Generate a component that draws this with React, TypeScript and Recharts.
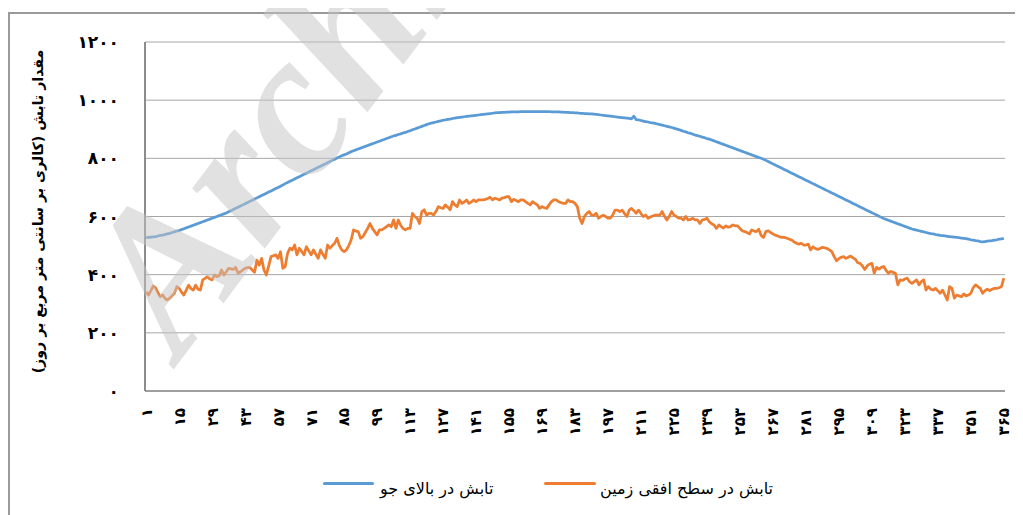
import React from 'react';
import { LineChart, Line, XAxis, YAxis, CartesianGrid, Label } from 'recharts';

// تابش در بالای جو (top of atmosphere), day 1..365
const topOfAtmosphere: number[] = [
  527, 528, 529, 530, 531, 533, 535, 536, 538, 540,
  542, 545, 547, 550, 552, 555, 558, 561, 564, 567,
  570, 573, 576, 579, 582, 585, 588, 591, 594, 597,
  600, 603, 606, 609, 612, 616, 620, 624, 628, 632,
  636, 640, 644, 648, 652, 656, 660, 664, 668, 672,
  676, 680, 684, 688, 692, 696, 700, 704, 708, 713,
  717, 721, 725, 729, 733, 737, 741, 745, 749, 753,
  757, 761, 765, 769, 773, 777, 781, 785, 789, 793,
  797, 801, 805, 809, 812, 815, 819, 823, 826, 829,
  832, 835, 838, 841, 844, 847, 850, 853, 856, 859,
  862, 865, 868, 871, 874, 877, 879, 882, 884, 887,
  889, 892, 895, 898, 901, 904, 907, 910, 913, 916,
  919, 921, 923, 925, 927, 929, 931, 932, 934, 935,
  937, 938, 940, 941, 942, 943, 944, 945, 946, 947,
  948, 949, 950, 951, 952, 953, 954, 955, 956, 957,
  957, 958, 958, 959, 959, 960, 960, 960, 960, 961,
  961, 961, 961, 961, 961, 961, 961, 961, 961, 961,
  961, 961, 960, 960, 960, 960, 959, 959, 958, 958,
  957, 957, 956, 956, 955, 955, 954, 954, 953, 953,
  952, 951, 950, 949, 948, 947, 946, 945, 944, 943,
  942, 941, 940, 939, 938, 937, 936, 945, 933, 932,
  930, 928, 926, 925, 923, 922, 920, 918, 916, 914,
  912, 910, 908, 906, 904, 901, 899, 896, 893, 891,
  888, 886, 883, 880, 878, 876, 873, 871, 868, 866,
  863, 860, 857, 854, 851, 848, 845, 842, 839, 836,
  833, 830, 827, 824, 821, 818, 815, 812, 809, 806,
  803, 800, 797, 793, 789, 785, 781, 777, 773, 769,
  765, 761, 757, 753, 749, 745, 741, 737, 733, 729,
  725, 721, 717, 713, 709, 705, 701, 697, 693, 689,
  685, 681, 677, 673, 669, 665, 661, 657, 653, 649,
  645, 641, 637, 633, 629, 625, 621, 617, 613, 609,
  605, 601, 597, 593, 590, 587, 584, 581, 578, 575,
  572, 569, 566, 563, 560, 557, 555, 553, 551, 549,
  547, 545, 543, 541, 540, 538, 537, 535, 534, 533,
  532, 531, 530, 529, 528, 527, 526, 525, 524, 522,
  520, 519, 517, 516, 514, 513, 514, 515, 516, 517,
  519, 520, 522, 523, 525,
];

// تابش در سطح افقی زمین (horizontal surface), day 1..365
const surface: number[] = [
  341, 330, 345, 361, 355, 338, 324, 330, 318, 313,
  319, 328, 336, 359, 353, 340, 330, 347, 364, 352,
  347, 364, 350, 347, 382, 387, 393, 385, 382, 399,
  393, 396, 416, 399, 410, 422, 420, 418, 425, 405,
  410, 416, 422, 424, 425, 416, 408, 450, 433, 456,
  416, 399, 430, 462, 465, 468, 456, 479, 422, 428,
  473, 491, 485, 502, 468, 491, 480, 468, 496, 482,
  468, 485, 470, 456, 485, 470, 456, 502, 491, 500,
  508, 525, 500, 485, 479, 485, 500, 519, 554, 550,
  548, 525, 531, 545, 559, 576, 559, 548, 537, 554,
  554, 559, 565, 571, 565, 588, 559, 588, 570, 559,
  554, 559, 559, 611, 600, 594, 576, 617, 623, 605,
  611, 611, 605, 617, 634, 630, 628, 640, 632, 623,
  651, 640, 634, 657, 645, 650, 657, 645, 650, 657,
  651, 657, 657, 657, 659, 662, 666, 657, 663, 660,
  657, 663, 665, 668, 668, 651, 659, 655, 651, 657,
  657, 651, 645, 640, 651, 645, 640, 628, 634, 630,
  628, 640, 651, 657, 657, 651, 648, 645, 645, 657,
  651, 651, 645, 634, 594, 576, 600, 611, 617, 605,
  605, 611, 594, 600, 605, 600, 594, 594, 605, 622,
  622, 617, 622, 610, 600, 622, 628, 620, 611, 622,
  610, 600, 605, 594, 598, 602, 605, 605, 605, 617,
  600, 588, 600, 617, 605, 600, 594, 594, 588, 600,
  588, 590, 594, 588, 588, 576, 588, 590, 594, 582,
  575, 571, 559, 571, 565, 560, 568, 563, 565, 571,
  568, 568, 559, 551, 548, 545, 540, 554, 550, 548,
  556, 535, 528, 548, 551, 545, 540, 536, 533, 530,
  528, 528, 525, 522, 519, 513, 508, 505, 508, 502,
  502, 505, 485, 496, 490, 487, 490, 494, 492, 490,
  485, 479, 462, 448, 455, 460, 462, 456, 460, 464,
  458, 453, 441, 439, 430, 418, 430, 436, 439, 405,
  425, 419, 425, 428, 415, 405, 411, 408, 405, 365,
  382, 380, 385, 388, 376, 370, 376, 382, 365, 376,
  382, 347, 359, 350, 347, 353, 345, 336, 347, 330,
  313, 359, 353, 319, 330, 327, 324, 334, 327, 330,
  336, 355, 365, 359, 353, 336, 345, 350, 345, 350,
  353, 353, 355, 359, 388,
];

const xTickDays = [1, 15, 29, 43, 57, 71, 85, 99, 113, 127, 141, 155, 169, 183, 197, 211, 225, 239, 253, 267, 281, 295, 309, 323, 337, 351, 365];
const xTickLabels = ['۱', '۱۵', '۲۹', '۴۳', '۵۷', '۷۱', '۸۵', '۹۹', '۱۱۳', '۱۲۷', '۱۴۱', '۱۵۵', '۱۶۹', '۱۸۳', '۱۹۷', '۲۱۱', '۲۲۵', '۲۳۹', '۲۵۳', '۲۶۷', '۲۸۱', '۲۹۵', '۳۰۹', '۳۲۳', '۳۳۷', '۳۵۱', '۳۶۵'];
const yTicks = [0, 200, 400, 600, 800, 1000, 1200];
const yTickLabels = ['۰', '۲۰۰', '۴۰۰', '۶۰۰', '۸۰۰', '۱۰۰۰', '۱۲۰۰'];

const seriesNames = ['تابش در بالای جو', 'تابش در سطح افقی زمین'];
const yTitle = 'مقدار تابش (کالری بر سانتی متر مربع بر روز)';
const watermark = 'Archive of SID';

const data = topOfAtmosphere.map((v, i) => ({ day: i + 1, top: v, surface: surface[i] }));

const FONT = '"DejaVu Sans", sans-serif';
const BLUE = '#5b9bd5';
const ORANGE = '#ed7d31';

const XTick = (props: any) => {
  const { x, y, payload } = props;
  const idx = xTickDays.indexOf(payload.value);
  const label = idx >= 0 ? xTickLabels[idx] : String(payload.value);
  return (
    <text
      x={x}
      y={y}
      dy="0.36em"
      transform={`rotate(-90, ${x}, ${y})`}
      textAnchor="end"
      fontFamily={FONT}
      fontWeight="bold"
      fontSize={15}
      fill="#000"
    >
      {label}
    </text>
  );
};

const YTick = (props: any) => {
  const { x, y, payload } = props;
  const idx = yTicks.indexOf(payload.value);
  const label = idx >= 0 ? yTickLabels[idx] : String(payload.value);
  return (
    <text x={x} y={y} dy="0.36em" textAnchor="end" fontFamily={FONT} fontWeight="bold" fontSize={17} fill="#000">
      {label}
    </text>
  );
};

const YTitle = (props: any) => {
  const vb = props.viewBox || { x: 0, y: 34, width: 137, height: 349 };
  const cx = vb.x + 30;
  const cy = vb.y + vb.height / 2 - 5;
  return (
    <text
      x={cx}
      y={cy}
      dy="0.36em"
      transform={`rotate(-90, ${cx}, ${cy})`}
      textAnchor="middle"
      fontFamily={FONT}
      fontWeight="bold"
      fontSize={14.2}
      fill="#000"
    >
      {yTitle}
    </text>
  );
};

export default function App() {
  return (
    <div style={{ position: 'relative', width: 1015, height: 507, overflow: 'hidden', background: '#fff' }}>
      <div
        style={{
          position: 'absolute',
          left: 0,
          top: 4,
          width: 1200,
          height: 700,
          borderLeft: '2px solid #9a9a9a',
          borderTop: '2px solid #9a9a9a',
          boxSizing: 'border-box',
        }}
      />
      <div style={{ position: 'absolute', left: 0, top: 0 }}>
        <LineChart width={1015} height={507} data={data} margin={{ top: 34, right: 18, left: 0, bottom: 64 }}>
          <CartesianGrid horizontal={true} vertical={false} stroke="#a6a6a6" strokeWidth={1} />
          <XAxis
            dataKey="day"
            type="number"
            domain={[0.5, 365.5]}
            ticks={xTickDays}
            interval={0}
            tickSize={0}
            tickMargin={17}
            tick={<XTick />}
            axisLine={{ stroke: '#8c8c8c', strokeWidth: 1.5 }}
            tickLine={false}
            height={60}
            allowDataOverflow={true}
          />
          <YAxis
            type="number"
            domain={[0, 1200]}
            ticks={yTicks}
            interval={0}
            width={137}
            tickSize={0}
            tickMargin={26}
            tick={<YTick />}
            axisLine={{ stroke: '#8c8c8c', strokeWidth: 2 }}
            tickLine={false}
          >
            <Label content={<YTitle />} />
          </YAxis>
          <Line
            type="linear"
            dataKey="top"
            name={seriesNames[0]}
            stroke={BLUE}
            strokeWidth={2.75}
            dot={false}
            isAnimationActive={false}
            strokeLinejoin="round"
          />
          <Line
            type="linear"
            dataKey="surface"
            name={seriesNames[1]}
            stroke={ORANGE}
            strokeWidth={2.75}
            dot={false}
            isAnimationActive={false}
            strokeLinejoin="round"
          />
        </LineChart>
      </div>
      <svg width={1015} height={507} style={{ position: 'absolute', left: 0, top: 0, pointerEvents: 'none' }}>
        <text
          x={172}
          y={353}
          transform="rotate(-53, 172, 353)"
          fontFamily='"Liberation Serif", serif'
          fontStyle="italic"
          fontWeight="bold"
          fontSize={205}
          fill="#c4c4c4"
          fillOpacity={0.5}
        >
          {watermark}
        </text>
      </svg>
      <div style={{ position: 'absolute', left: 315, top: 474, width: 51, height: 3, background: BLUE, borderRadius: 2 }} />
      <div
        dir="rtl"
        style={{ position: 'absolute', left: 372, top: 470, fontFamily: FONT, fontSize: 16, color: '#000', whiteSpace: 'nowrap', lineHeight: '22px' }}
      >
        {seriesNames[0]}
      </div>
      <div style={{ position: 'absolute', left: 536, top: 474, width: 52, height: 3, background: ORANGE, borderRadius: 2 }} />
      <div
        dir="rtl"
        style={{ position: 'absolute', left: 592, top: 470, fontFamily: FONT, fontSize: 16, color: '#000', whiteSpace: 'nowrap', lineHeight: '22px' }}
      >
        {seriesNames[1]}
      </div>
    </div>
  );
}
